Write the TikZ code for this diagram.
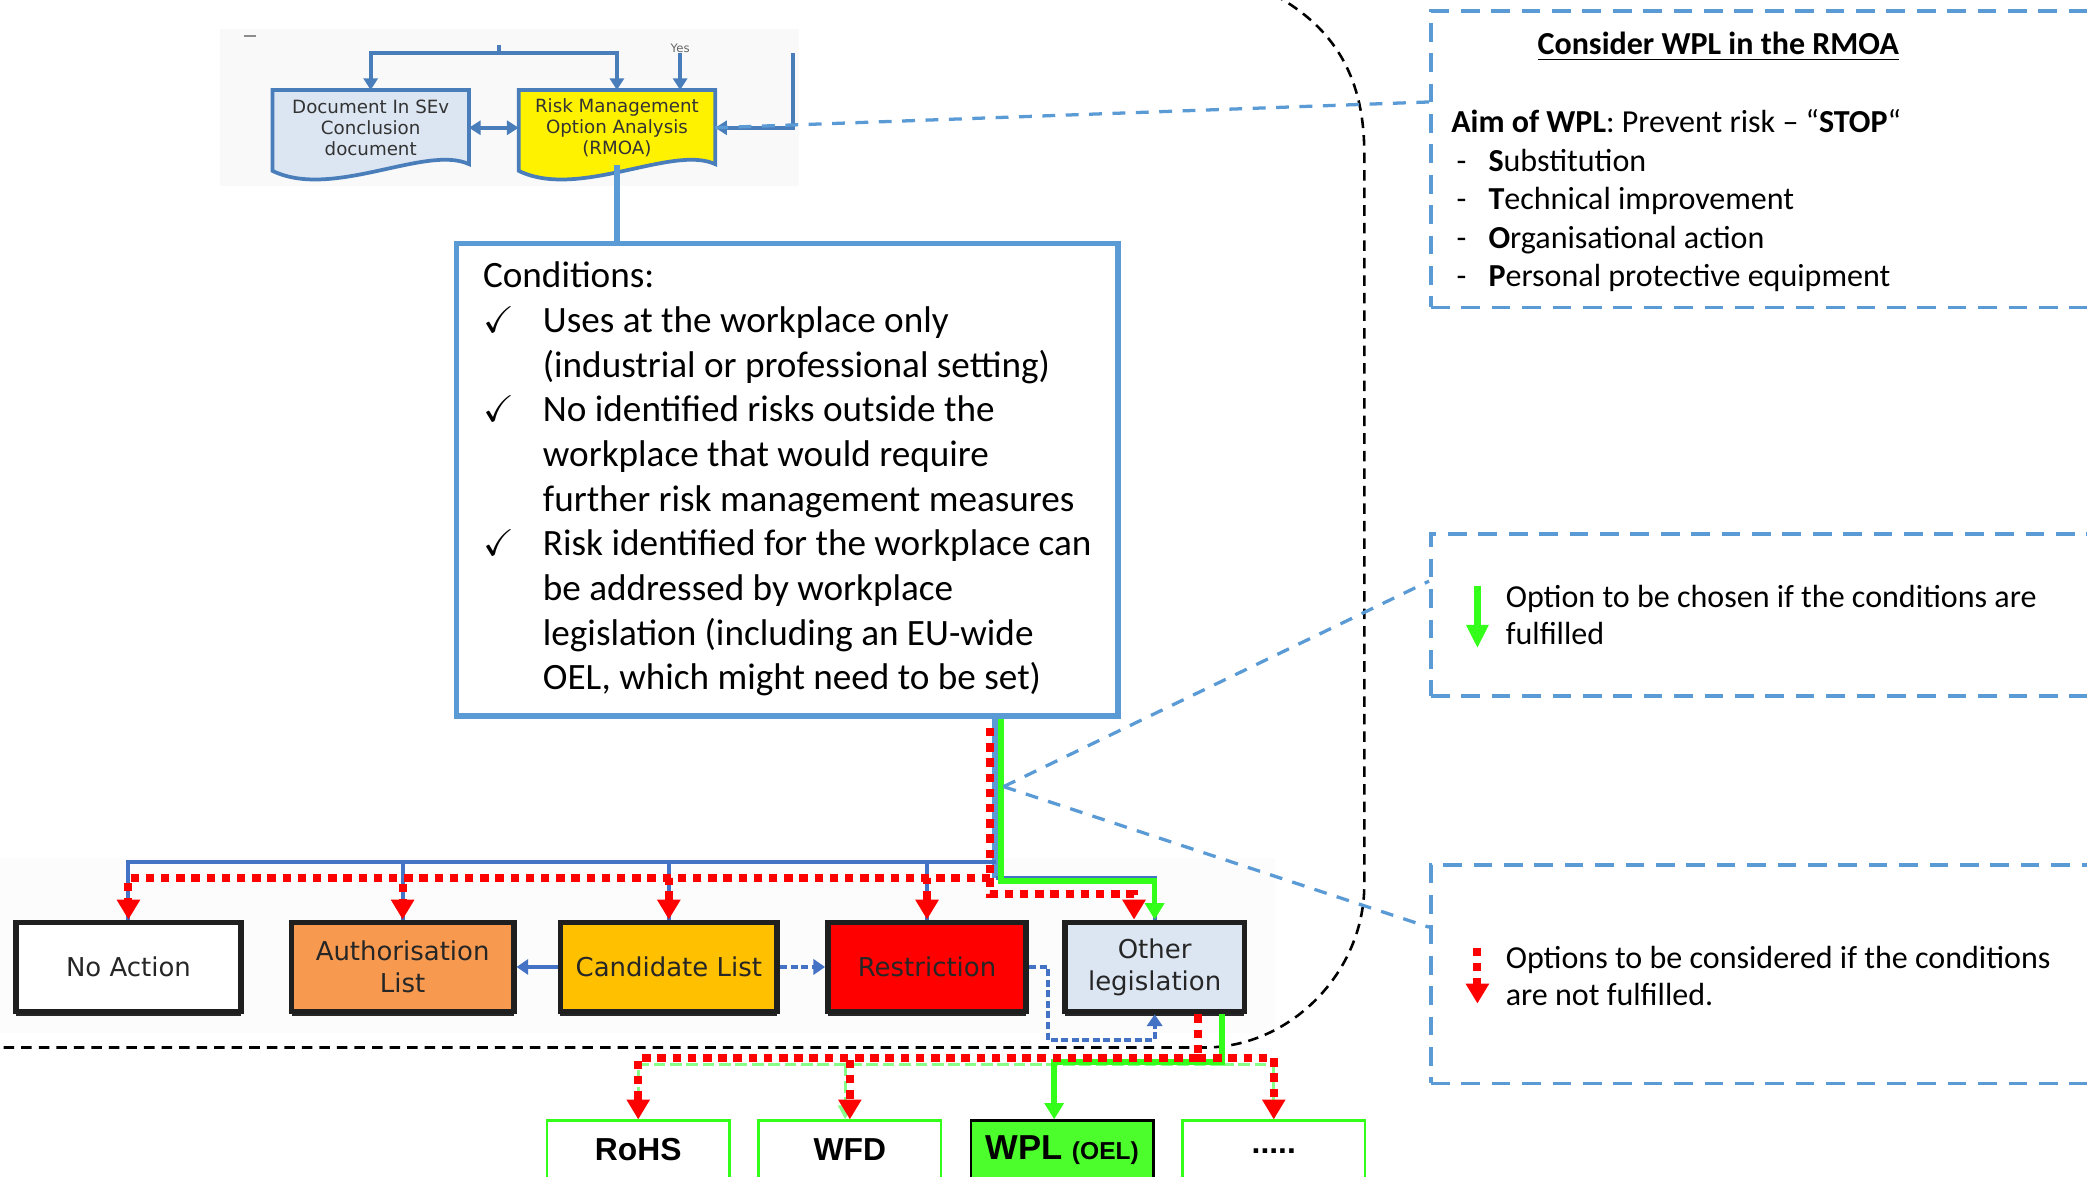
\documentclass[tikz,border=0pt]{standalone}
\usepackage{fontspec}
\setmainfont{Carlito}
\newfontfamily\boxfont{DejaVu Sans}
\newfontfamily\lawfont{Liberation Sans}
\usepackage{amssymb}
\usetikzlibrary{arrows.meta,calc,shadows,backgrounds,positioning}

\definecolor{rmoablue}{HTML}{4A7EBB}
\definecolor{condblue}{HTML}{5B9BD5}
\definecolor{treeblue}{HTML}{4472C4}
\definecolor{docfill}{HTML}{DCE6F2}
\definecolor{authorange}{HTML}{F79A50}
\definecolor{candyellow}{HTML}{FFC000}
\definecolor{flowgreen}{HTML}{33FF1A}
\definecolor{palegreen}{HTML}{88FF88}
\definecolor{wplgreen}{HTML}{4CFF2C}

\begin{document}
\begin{tikzpicture}[x=0.02cm, y=-0.02cm,
    docbox/.style={rectangle, minimum width=2.94cm, minimum height=1.12cm,
              inner sep=0pt, align=center, text=black!80,
              font=\boxfont\fontsize{7.8}{9.1}\selectfont},
    docline/.style={draw=rmoablue, line width=1.6pt},
    condbox/.style={rectangle, draw=condblue, line width=2.3pt, fill=white,
              minimum width=9.94cm, minimum height=7.1cm, inner sep=0pt},
    measure/.style={rectangle, draw=black!88, line width=2.4pt,
              minimum height=1.34cm, align=center, text=black!85,
              font=\boxfont\fontsize{11.1}{13.7}\selectfont,
              drop shadow={shadow xshift=0pt, shadow yshift=-2pt,
                           fill=black!85, opacity=1}},
    law/.style={rectangle, draw=flowgreen, line width=1.1pt, fill=white,
              minimum width=2.74cm, minimum height=0.88cm,
              font=\lawfont\bfseries\fontsize{13.6}{16}\selectfont},
    notebox/.style={rectangle, draw=condblue, line width=1.6pt,
              dash pattern=on 8pt off 5pt, minimum width=10.7cm},
    notetext/.style={inner sep=0pt, font=\fontsize{13.7}{16.5}\selectfont},
    legendtext/.style={inner sep=0pt, anchor=west, align=left,
              font=\fontsize{13.7}{15.9}\selectfont},
    leaderline/.style={draw=condblue, line width=1.4pt,
              dash pattern=on 5.5pt off 4.5pt},
    regionline/.style={draw=black, line width=1.1pt,
              dash pattern=on 4.5pt off 3pt},
    topline/.style={draw=rmoablue, line width=1.8pt},
    stemline/.style={draw=condblue, line width=2.8pt},
    treeline/.style={draw=treeblue, line width=1.7pt},
    bluedash/.style={draw=treeblue, line width=1.7pt, dash pattern=on 3pt off 1.5pt},
    redflow/.style={draw=red, line width=3.4pt, dash pattern=on 3.6pt off 2.9pt},
    greenflow/.style={draw=flowgreen, line width=2.4pt},
    paleflow/.style={draw=palegreen, line width=1.3pt, dash pattern=on 5pt off 2pt},
    toptip/.style={-{Triangle[width=6pt,length=5pt]}},
    bluetip/.style={-{Triangle[width=6.5pt,length=5pt]}},
    redtip/.style={-{Triangle[width=9.5pt,length=8.5pt]}},
    greentip/.style={-{Triangle[width=8pt,length=7pt]}},
    paletip/.style={-{Triangle[width=6pt,length=6pt]}}
]
\useasboundingbox (0,0) rectangle (1568,884);
\clip (0,0) rectangle (1568,884);

% RMOA part (pasted flow chart)
\node[docbox] (docsev) at (278.5,96) {Document In SEv\\Conclusion\\document};
\node[docbox] (rmoa) at (463.5,96) {Risk Management\\Option Analysis\\(RMOA)};
\node[inner sep=0pt, text=black!60, font=\boxfont\fontsize{5}{6}\selectfont]
    (yes) at (511,36) {Yes};

\begin{scope}[on background layer]
    \fill[black!2.5] (165,22) rectangle (600,140);
    \fill[black!1.2] (0,645) rectangle (958,776);
    \draw[black!45, line width=0.8pt] (183,27) -- (192,27);
    \draw[docline, fill=docfill] (docsev.north west) -- (docsev.north east)
        -- ($(docsev.south east)+(0,-1)$)
        .. controls ($(docsev.south east)+(-32,-16)$) and ($(docsev.south west)+(45,26)$)
        .. ($(docsev.south west)+(0,4)$) -- cycle;
    \draw[docline, fill=yellow] (rmoa.north west) -- (rmoa.north east)
        -- ($(rmoa.south east)+(0,-1)$)
        .. controls ($(rmoa.south east)+(-32,-16)$) and ($(rmoa.south west)+(45,26)$)
        .. ($(rmoa.south west)+(0,4)$) -- cycle;
\end{scope}

\coordinate (fork) at (375,40);
\coordinate (feed) at (596,40);
\draw[topline] (fork) -- ++(0,-6);
\draw[topline, toptip] (fork) -| (docsev.north);
\draw[topline, toptip] (fork) -| (rmoa.north);
\draw[topline, toptip] (yes.south) -- (yes.south |- rmoa.north);
\draw[topline, toptip] (feed) |- (rmoa.east);
\draw[topline, {Triangle[width=6pt,length=5pt]}-{Triangle[width=6pt,length=5pt]}]
    (docsev.east) -- (rmoa.west);

% conditions
\node[condbox] (cond) at (591.5,360.5) {\fontsize{15.9}{19.1}\selectfont
    \begin{tabular}{@{}p{0.9cm}@{}l@{}}
    \multicolumn{2}{@{}l@{}}{Conditions:}\\
    $\checkmark$ & Uses at the workplace only\\
     & (industrial or professional setting)\\
    $\checkmark$ & No identified risks outside the\\
     & workplace that would require\\
     & further risk management measures\\
    $\checkmark$ & Risk identified for the workplace can\\
     & be addressed by workplace\\
     & legislation (including an EU-wide\\
     & OEL, which might need to be set)
    \end{tabular}};
\draw[stemline] (rmoa.south) -- (rmoa.south |- cond.north);

% region boundary
\draw[regionline] (945,-10) .. controls (1000,15) and (1025,55) .. (1025,115)
    -- (1025,665) .. controls (1025,730) and (970,787) .. (905,787) -- (-10,787);

% risk management options
\node[measure, fill=white, minimum width=3.38cm] (noaction) at (96.5,726.5) {No Action};
\node[measure, fill=authorange, minimum width=3.34cm] (authlist) at (302.5,726.5)
    {Authorisation\\List};
\node[measure, fill=candyellow, minimum width=3.26cm] (candlist) at (502.5,726.5)
    {Candidate List};
\node[measure, fill=red, minimum width=2.98cm] (restr) at (696.5,726.5) {Restriction};
\node[measure, fill=docfill, minimum width=2.7cm] (otherleg) at (867.5,726.5)
    {Other\\legislation};

\node[law] (rohs) at (479.5,864) {RoHS};
\node[law] (wfd) at (638.5,864) {WFD};
\node[law, fill=wplgreen, draw=black, font=\lawfont\bfseries\fontsize{14.8}{17}\selectfont]
    (wpl) at (798,864) {WPL {\fontsize{10.5}{12}\selectfont(OEL)}};
\node[law] (etc) at (957,864) {\raisebox{-3pt}{.....}};

% tree
\coordinate (bluesplit) at (748,648);
\coordinate (bluebend) at (748,660);
\coordinate (redsplit) at (744,660);
\coordinate (greenbend) at (752,662);
\draw[stemline] (cond.south -| bluebend) -- (bluebend);
\draw[treeline] (bluesplit) -| (noaction.north);
\draw[treeline] (bluesplit) -| (authlist.north);
\draw[treeline] (bluesplit) -| (candlist.north);
\draw[treeline] (bluesplit) -| (restr.north);
\draw[treeline] (bluebend) -| (otherleg.north);

\draw[redflow, shorten <=0.14cm] (cond.south -| redsplit) -- (redsplit);
\draw[redflow, redtip] (redsplit) -| (noaction.north);
\draw[redflow, redtip] (redsplit) -| (authlist.north);
\draw[redflow, redtip] (redsplit) -| (candlist.north);
\draw[redflow, redtip] (redsplit) -| (restr.north);
\draw[redflow, redtip] (redsplit) -- ++(0,12) -| ([xshift=-0.31cm]otherleg.north);

\draw[greenflow, greentip] (cond.south -| greenbend) -- (greenbend) -| (otherleg.north);

% between the options
\draw[treeline, bluetip] (candlist.west) -- (authlist.east);
\draw[bluedash, bluetip] (candlist.east) -- (restr.west);
\draw[bluedash, bluetip] (restr.east) -- ++(14,0) -- ++(0,55) -| (otherleg.south);

% other legislation
\coordinate (palefan) at (918,800);
\coordinate (greenfan) at (918,798);
\coordinate (redfan) at (900,795);
\draw[paleflow, paletip] (palefan) -| (rohs.north);
\draw[paleflow, paletip] (palefan) -| ([xshift=-0.07cm]wfd.north);
\draw[paleflow, paletip] (palefan) -| (etc.north);
\draw[greenflow, greentip] (otherleg.south -| greenfan) -- (greenfan)
    -| ([xshift=-0.12cm]wpl.north);
\draw[redflow] (otherleg.south -| redfan) -- (redfan);
\draw[redflow, redtip] (redfan) -| (rohs.north);
\draw[redflow, redtip] (redfan) -| (wfd.north);
\draw[redflow, redtip] (redfan) -| (etc.north);

% notes
\node[notebox, minimum height=4.46cm] (stopbox) at (1342.5,119.5) {};
\node[notebox, minimum height=2.44cm] (chosenbox) at (1342.5,462) {};
\node[notebox, minimum height=3.28cm] (considerbox) at (1342.5,732) {};

\coordinate (leaderfoot) at (754,591);
\draw[leaderline] (rmoa.east) -- ($(stopbox.north west)+(0,70)$);
\draw[leaderline] (leaderfoot) -- ($(chosenbox.north west)+(0,37)$);
\draw[leaderline] (leaderfoot) -- ($(considerbox.north west)+(0,48)$);

\node[notetext] (stoptitle) at (1291,35) {\textbf{\underline{Consider WPL in the RMOA}}};
\node[notetext, anchor=north west] (stoptext) at (1090,79) {%
    \begin{tabular}{@{}p{0.56cm}@{}l@{}}
    \multicolumn{2}{@{}l@{}}{\textbf{Aim of WPL}: Prevent risk – “\textbf{STOP}“}\\
    \hspace{0.08cm}- & \textbf{S}ubstitution\\
    \hspace{0.08cm}- & \textbf{T}echnical improvement\\
    \hspace{0.08cm}- & \textbf{O}rganisational action\\
    \hspace{0.08cm}- & \textbf{P}ersonal protective equipment
    \end{tabular}};

\coordinate (chosentop) at (1110,440);
\coordinate (chosenbot) at (1110,487);
\draw[greenflow, line width=3.2pt, -{Triangle[width=9pt,length=10pt]}] (chosentop) -- (chosenbot);
\node[legendtext] (chosentext) at (1131,462)
    {Option to be chosen if the conditions are\\fulfilled};

\coordinate (considertop) at (1110,712);
\coordinate (considerbot) at (1110,754);
\draw[redflow, redtip] (considertop) -- (considerbot);
\node[legendtext] (considertext) at (1131,733)
    {Options to be considered if the conditions\\are not fulfilled.};
\end{tikzpicture}
\end{document}
